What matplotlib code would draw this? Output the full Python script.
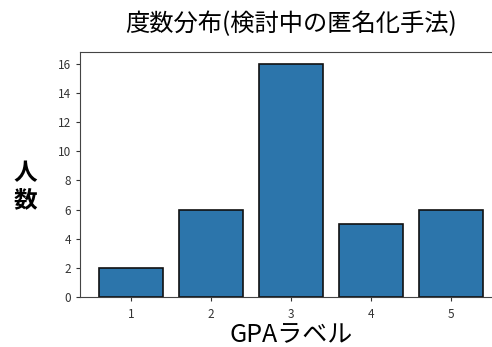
import matplotlib.pyplot as plt

plt.rcParams['font.family'] = ['Noto Sans CJK JP', 'DejaVu Sans']

gpa_labels = [1, 2, 3, 4, 5]
counts = [2, 6, 16, 5, 6]

fig = plt.figure(figsize=(4.92, 3.47), dpi=100)
ax = fig.add_axes([0.1626, 0.1441, 0.858, 0.706])

ax.bar(gpa_labels, counts, width=0.8, color='#2c75ab', edgecolor='#111111', linewidth=1.2)

ax.set_xticks(gpa_labels)
ax.set_yticks(range(0, 17, 2))
ax.tick_params(axis='both', labelsize=8.5, colors='#333333', length=3)
ax.tick_params(axis='x', pad=5)
for s in ax.spines.values():
    s.set_color('#444444')

ax.set_title("度数分布(検討中の匿名化手法)", fontsize=17.5, pad=15)
ax.set_xlabel("GPAラベル", fontsize=18, labelpad=0)
ax.set_ylabel("人\n数", fontsize=17, rotation=0, va='center', ha='center',
              linespacing=1.15, weight='bold')
ax.yaxis.set_label_coords(-0.13, 0.45)

fig.savefig('out.png', dpi=100)
